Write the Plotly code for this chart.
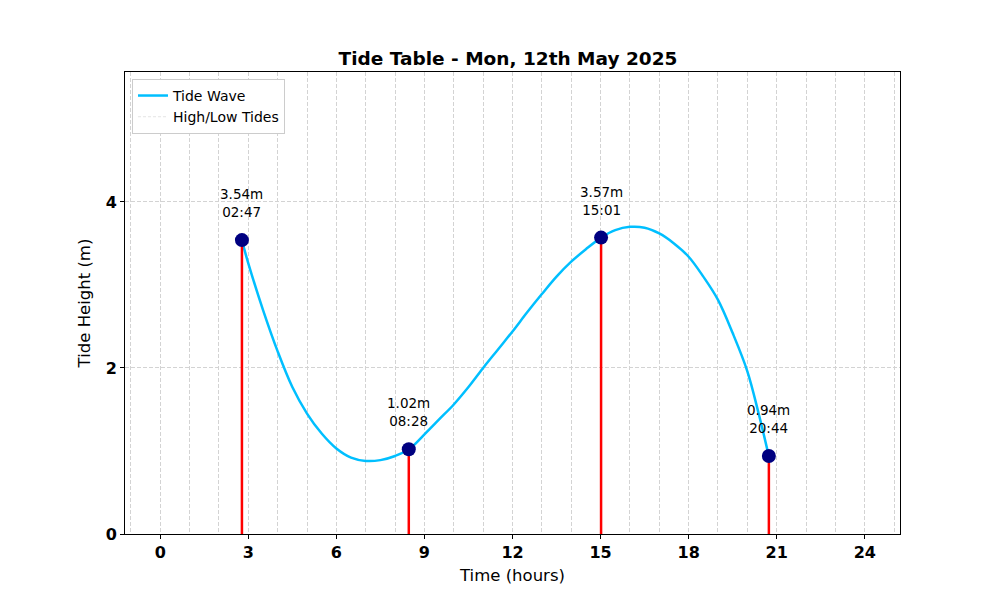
import plotly.graph_objects as go

# high / low tide events
tide_hours = [2.783, 8.467, 15.017, 20.733]
tide_heights = [3.54, 1.02, 3.57, 0.94]
tide_clock = ["02:47", "08:28", "15:01", "20:44"]

# tide wave
wave_hours = [2.78, 3.0, 3.5, 4.0, 4.5, 5.0, 5.5, 6.0, 6.5, 7.0, 7.5, 8.0, 8.47,
              9.0, 9.5, 10.0, 10.5, 11.0, 11.5, 12.0, 12.5, 13.0, 13.5, 14.0, 14.5, 15.02,
              15.5, 16.0, 16.5, 17.0, 17.5, 18.0, 18.5, 19.0, 19.5, 20.0, 20.4, 20.73]
wave_heights = [3.54, 3.26, 2.70, 2.20, 1.77, 1.45, 1.21, 1.03, 0.92, 0.88, 0.89, 0.94, 1.02,
                1.20, 1.38, 1.56, 1.77, 2.00, 2.22, 2.44, 2.67, 2.89, 3.10, 3.28, 3.43, 3.57,
                3.66, 3.70, 3.69, 3.62, 3.50, 3.34, 3.10, 2.82, 2.42, 1.96, 1.43, 0.94]

x_ticks = [0, 3, 6, 9, 12, 15, 18, 21, 24]
y_ticks = [0, 2, 4]

FONT = "DejaVu Sans"
GRID = "#d3d3d3"

fig = go.Figure()

fig.add_trace(go.Scatter(
    x=wave_hours, y=wave_heights, mode="lines", name="Tide Wave",
    line=dict(color="#00BFFF", width=2.5, shape="spline", smoothing=1.0),
))

# red stems from the ground up to each tide
stem_x, stem_y = [], []
for h, v in zip(tide_hours, tide_heights):
    stem_x += [h, h, None]
    stem_y += [0, v, None]
fig.add_trace(go.Scatter(
    x=stem_x, y=stem_y, mode="lines", showlegend=False,
    line=dict(color="red", width=2.5),
))

# legend handle only
fig.add_trace(go.Scatter(
    x=[None], y=[None], mode="lines", name="High/Low Tides",
    line=dict(color="#dddddd", width=0.8, dash="3px,2px"),
))

fig.add_trace(go.Scatter(
    x=tide_hours, y=tide_heights, mode="markers", showlegend=False,
    marker=dict(color="navy", size=14),
))

for h, v, c in zip(tide_hours, tide_heights, tide_clock):
    fig.add_annotation(
        x=h, y=v, text=f"{v:.2f}m<br>{c}", showarrow=False,
        yanchor="bottom", yshift=18, font=dict(family=FONT, size=13.5, color="black"),
    )

# page body adds an 8px offset, margins below account for it
fig.update_layout(
    width=1000, height=600,
    margin=dict(l=117, r=108, t=64, b=74),
    paper_bgcolor="white", plot_bgcolor="white",
    font=dict(family=FONT, color="black"),
    title=dict(text="<b>Tide Table - Mon, 12th May 2025</b>", x=0.5, xanchor="center",
               y=0.915, yanchor="middle", font=dict(size=18.5, family=FONT)),
    legend=dict(x=0.009, y=0.985, xanchor="left", yanchor="top",
                bgcolor="white", bordercolor="#cccccc", borderwidth=1,
                font=dict(size=14, family=FONT), tracegroupgap=0),
)

fig.update_xaxes(
    range=[-1.2, 25.2], tickvals=x_ticks, ticks="outside", ticklen=4, tickcolor="black",
    tickfont=dict(size=16, family=FONT, weight="bold"), showline=True, linecolor="black",
    linewidth=1, mirror=True, zeroline=False,
    showgrid=True, gridcolor=GRID, griddash="4px,2px", gridwidth=0.8,
    minor=dict(dtick=1, tick0=0, showgrid=True, gridcolor=GRID, griddash="4px,2px", gridwidth=0.8),
    title=dict(text="Time (hours)", font=dict(size=16.5, family=FONT), standoff=8),
)
fig.update_yaxes(
    range=[0, 5.565], tickvals=y_ticks, ticks="outside", ticklen=4, tickcolor="black",
    tickfont=dict(size=16, family=FONT, weight="bold"), showline=True, linecolor="black",
    linewidth=1, mirror=True, zeroline=False,
    showgrid=True, gridcolor=GRID, griddash="4px,2px", gridwidth=0.8,
    title=dict(text="Tide Height (m)", font=dict(size=16.5, family=FONT), standoff=10),
)

fig.write_html("out.html")
